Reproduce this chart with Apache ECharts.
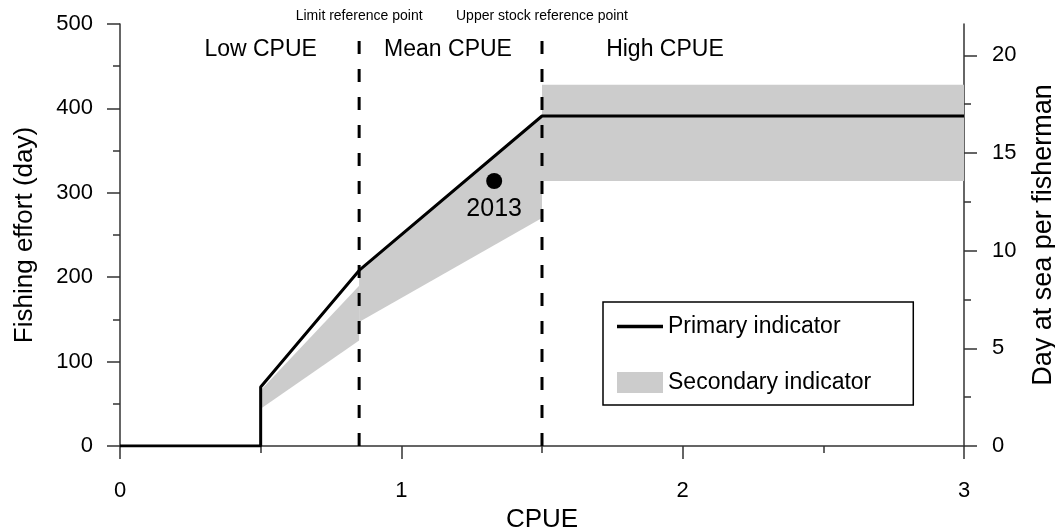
<!DOCTYPE html>
<html>
<head>
<meta charset="utf-8">
<script src="https://cdn.jsdelivr.net/npm/echarts@6/dist/echarts.min.js"></script>
<style>
html,body{margin:0;padding:0;background:#fff;}
#chart{width:1055px;height:527px;}
</style>
</head>
<body>
<div id="chart"></div>
<script>
// ---- data ----
const primaryX = [0, 0.5, 0.5, 0.85, 1.5, 3];
const primaryY = [0, 0, 70, 208, 391, 391];

// secondary indicator band segments: [xStart, xEnd]
const bandX = [[0.5, 0.85], [0.85, 1.5], [1.5, 3]];
const bandLow = [[44, 125], [147, 270], [314, 314]];
const bandHigh = [[66, 190], [208, 391], [428, 428]];

const refLineX = [0.85, 1.5];
const refLineTop = 480;
const refLabels = ['Limit reference point', 'Upper stock reference point'];
const refLabelY = 509;

const regionLabels = ['Low CPUE', 'Mean CPUE', 'High CPUE'];
const regionX = [0.5, 1.166, 1.937];
const regionY = 470;

const pointX = [1.33];
const pointY = [314];
const pointLabels = ['2013'];

const xTicks = [0, 1, 2, 3];
const leftTicks = [0, 100, 200, 300, 400, 500];
const rightTicks = [0, 5, 10, 15, 20];
const rightMinorTicks = [2.5, 7.5, 12.5, 17.5];
const rightMax = 21.6;

// ---- chart ----
const FONT = 'Liberation Sans, Arial, Helvetica, sans-serif';
const AX = '#333';
const chart = echarts.init(document.getElementById('chart'), null, {renderer: 'canvas'});

const bandData = bandX.map((b, i) => [b[0], b[1], bandLow[i][0], bandHigh[i][0], bandLow[i][1], bandHigh[i][1]]);

const series = [
  {
    name: 'Secondary indicator',
    type: 'custom',
    xAxisIndex: 0, yAxisIndex: 0,
    itemStyle: {color: '#cccccc'},
    encode: {x: [0, 1], y: [2, 3, 4, 5]},
    data: bandData,
    renderItem: function (params, api) {
      const x0 = api.value(0), x1 = api.value(1);
      const pts = [
        api.coord([x0, api.value(2)]),
        api.coord([x1, api.value(4)]),
        api.coord([x1, api.value(5)]),
        api.coord([x0, api.value(3)])
      ];
      return {type: 'polygon', shape: {points: pts}, style: {fill: '#cccccc'}};
    },
    silent: true,
    z: 1
  },
  {
    name: 'Primary indicator',
    type: 'line',
    data: primaryX.map((x, i) => [x, primaryY[i]]),
    symbol: 'none',
    lineStyle: {color: '#000', width: 3},
    itemStyle: {color: '#000'},
    z: 3
  }
];

refLineX.forEach((x, i) => {
  series.push({
    name: 'ref' + i,
    type: 'line',
    data: [[x, 0], [x, refLineTop]],
    symbol: 'none',
    lineStyle: {color: '#000', width: 3, type: [13, 15]},
    silent: true,
    z: 2
  });
});

series.push({
  name: 'refLabels',
  type: 'scatter',
  clip: false,
  symbolSize: 0,
  itemStyle: {opacity: 1},
  data: refLineX.map((x, i) => ({value: [x, refLabelY], label: {formatter: refLabels[i]}})),
  label: {show: true, position: 'inside', color: '#000', fontSize: 14, fontFamily: FONT},
  silent: true
});

series.push({
  name: 'regionLabels',
  type: 'scatter',
  clip: false,
  symbolSize: 0,
  itemStyle: {opacity: 1},
  data: regionX.map((x, i) => ({value: [x, regionY], label: {formatter: regionLabels[i]}})),
  label: {show: true, position: 'inside', color: '#000', fontSize: 23, fontFamily: FONT},
  silent: true
});

series.push({
  name: 'point',
  type: 'scatter',
  symbol: 'circle',
  symbolSize: 16,
  itemStyle: {color: '#000', opacity: 1},
  data: pointX.map((x, i) => ({value: [x, pointY[i]], label: {formatter: pointLabels[i]}})),
  label: {show: true, position: 'bottom', distance: 8, color: '#000', fontSize: 25, fontFamily: FONT},
  silent: true,
  z: 4
});

const axisLine = {show: true, lineStyle: {color: AX, width: 1.5}};

chart.setOption({
  animation: false,
  backgroundColor: '#fff',
  textStyle: {fontFamily: FONT},
  grid: {left: 120, right: 91, top: 24, bottom: 81, containLabel: false, outerBoundsMode: 'none'},
  legend: {
    data: [
      {name: 'Primary indicator', icon: 'path://M0,0 L42,0 L42,3 L0,3 Z', itemStyle: {color: '#000'}},
      {name: 'Secondary indicator', icon: 'rect', itemStyle: {color: '#cccccc'}}
    ],
    orient: 'vertical',
    left: 603, top: 302,
    padding: [13, 42, 11, 14],
    itemGap: 33,
    itemWidth: 46,
    itemHeight: 21,
    borderColor: '#000',
    borderWidth: 1.5,
    borderRadius: 0,
    selectedMode: false,
    textStyle: {fontSize: 23, color: '#000', fontFamily: FONT}
  },
  xAxis: {
    type: 'value',
    min: 0, max: 3, interval: 1,
    name: 'CPUE', nameLocation: 'middle', nameGap: 56,
    nameTextStyle: {fontSize: 26, color: '#000', fontFamily: FONT},
    axisLine: axisLine,
    axisTick: {show: true, length: 13, lineStyle: {color: AX, width: 1.5}},
    minorTick: {show: true, splitNumber: 2, length: 7, lineStyle: {color: AX, width: 1.5}},
    splitLine: {show: false},
    minorSplitLine: {show: false},
    axisLabel: {fontSize: 22, color: '#000', margin: 34, fontFamily: FONT,
      customValues: xTicks}
  },
  yAxis: [
    {
      type: 'value', position: 'left',
      min: 0, max: 500, interval: 100,
      name: 'Fishing effort (day)', nameLocation: 'middle', nameGap: 82, nameRotate: 90,
      nameTextStyle: {fontSize: 26, color: '#000', fontFamily: FONT},
      axisLine: axisLine,
      axisTick: {show: true, length: 13, lineStyle: {color: AX, width: 1.5}},
      minorTick: {show: true, splitNumber: 2, length: 7, lineStyle: {color: AX, width: 1.5}},
      splitLine: {show: false},
      minorSplitLine: {show: false},
      axisLabel: {fontSize: 22, color: '#000', margin: 27, fontFamily: FONT, customValues: leftTicks}
    },
    {
      type: 'value', position: 'right',
      min: 0, max: rightMax,
      name: 'Day at sea per fisherman', nameLocation: 'middle', nameGap: 66, nameRotate: 90,
      nameTextStyle: {fontSize: 27, color: '#000', fontFamily: FONT},
      axisLine: axisLine,
      axisTick: {show: true, length: 13, customValues: rightTicks, lineStyle: {color: AX, width: 1.5}},
      splitLine: {show: false},
      axisLabel: {fontSize: 22, color: '#000', margin: 28, fontFamily: FONT, customValues: rightTicks}
    },
    {
      type: 'value', position: 'right',
      min: 0, max: rightMax,
      axisLine: {show: false},
      axisTick: {show: true, length: 7, customValues: rightMinorTicks, lineStyle: {color: AX, width: 1.5}},
      splitLine: {show: false},
      axisLabel: {show: false}
    }
  ],
  series: series
});
</script>
</body>
</html>
